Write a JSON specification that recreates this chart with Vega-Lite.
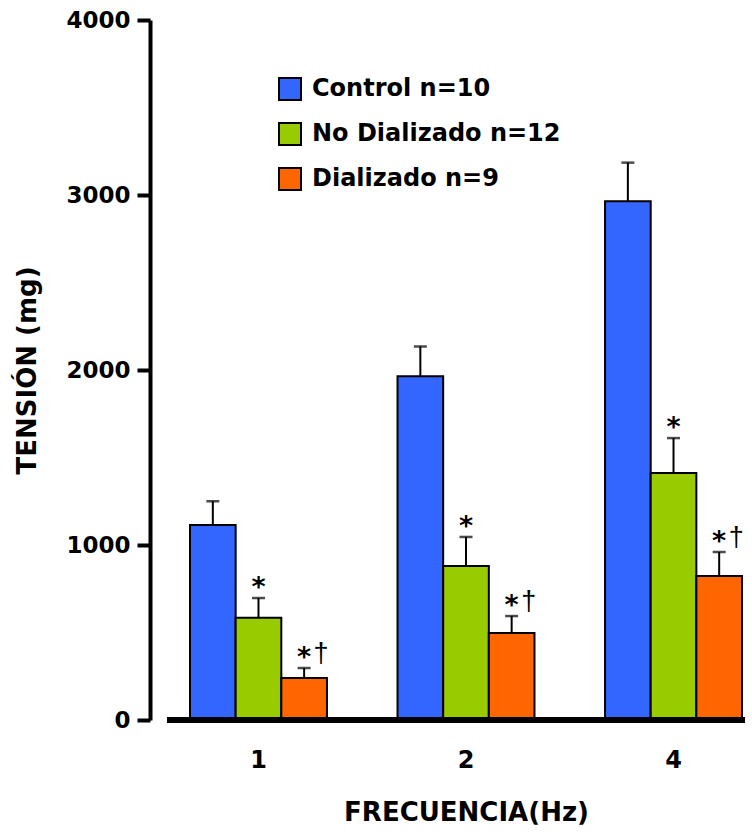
{
  "$schema": "https://vega.github.io/schema/vega-lite/v6.json",
  "autosize": {"type": "none"},
  "width": 578,
  "height": 700,
  "padding": {"left": 167, "top": 20, "right": 7, "bottom": 116},
  "background": "white",
  "config": {
    "view": {"stroke": null},
    "font": "DejaVu Sans"
  },
  "data": {
    "values": [
      {"freq": "1", "grupo": "Control  n=10", "valor": 1115, "err": 1250, "estrella": "", "daga": ""},
      {"freq": "1", "grupo": "No Dializado n=12", "valor": 585, "err": 697, "estrella": "*", "daga": ""},
      {"freq": "1", "grupo": "Dializado n=9", "valor": 240, "err": 297, "estrella": "*", "daga": "†"},
      {"freq": "2", "grupo": "Control  n=10", "valor": 1965, "err": 2135, "estrella": "", "daga": ""},
      {"freq": "2", "grupo": "No Dializado n=12", "valor": 880, "err": 1046, "estrella": "*", "daga": ""},
      {"freq": "2", "grupo": "Dializado n=9", "valor": 497, "err": 594, "estrella": "*", "daga": "†"},
      {"freq": "4", "grupo": "Control  n=10", "valor": 2965, "err": 3185, "estrella": "", "daga": ""},
      {"freq": "4", "grupo": "No Dializado n=12", "valor": 1411, "err": 1611, "estrella": "*", "daga": ""},
      {"freq": "4", "grupo": "Dializado n=9", "valor": 823, "err": 960, "estrella": "*", "daga": "†"}
    ]
  },
  "layer": [
    {
      "encoding": {
        "x": {
          "field": "freq",
          "type": "nominal",
          "sort": ["1", "2", "4"],
          "scale": {"range": [23, 575], "paddingInner": 0.34, "paddingOuter": 0},
          "axis": {
            "title": "FRECUENCIA(Hz)",
            "domain": false,
            "ticks": false,
            "labelAngle": 0,
            "labelFont": "DejaVu Sans",
            "labelFontWeight": "bold",
            "labelFontSize": 24,
            "labelColor": "black",
            "labelPadding": 28,
            "titleFont": "DejaVu Sans",
            "titleFontWeight": "bold",
            "titleFontSize": 26,
            "titleColor": "black",
            "titlePadding": 27
          }
        },
        "xOffset": {
          "field": "grupo",
          "type": "nominal",
          "sort": ["Control  n=10", "No Dializado n=12", "Dializado n=9"],
          "scale": {"paddingInner": 0, "paddingOuter": 0}
        }
      },
      "layer": [
        {
          "mark": {"type": "bar", "stroke": "black", "strokeWidth": 2},
          "encoding": {
            "y": {
              "field": "valor",
              "type": "quantitative",
              "scale": {"domain": [0, 4000], "nice": false},
              "axis": {
                "title": "TENSIÓN (mg)",
                "values": [0, 1000, 2000, 3000, 4000],
                "format": "d",
                "grid": false,
                "offset": 17,
                "domainColor": "black",
                "domainWidth": 4,
                "tickColor": "black",
                "tickWidth": 4,
                "tickSize": 13,
                "labelFont": "DejaVu Sans",
                "labelFontWeight": "bold",
                "labelFontSize": 23,
                "labelColor": "black",
                "labelPadding": 7,
                "titleFont": "DejaVu Sans",
                "titleFontWeight": "bold",
                "titleFontSize": 26,
                "titleColor": "black",
                "titlePadding": 25
              }
            },
            "color": {
              "field": "grupo",
              "type": "nominal",
              "sort": ["Control  n=10", "No Dializado n=12", "Dializado n=9"],
              "scale": {
                "domain": ["Control  n=10", "No Dializado n=12", "Dializado n=9"],
                "range": ["#3366FF", "#99CC00", "#FF6600"]
              },
              "legend": {
                "title": null,
                "orient": "none",
                "legendX": 111,
                "legendY": 57,
                "symbolType": "square",
                "symbolSize": 484,
                "symbolStrokeColor": "black",
                "symbolStrokeWidth": 2,
                "symbolOpacity": 1,
                "labelFont": "DejaVu Sans",
                "labelFontWeight": "bold",
                "labelFontSize": 24,
                "labelColor": "black",
                "labelOffset": 10,
                "labelLimit": 400,
                "rowPadding": 15
              }
            }
          }
        },
        {
          "mark": {"type": "rule", "color": "black", "strokeWidth": 2},
          "encoding": {
            "y": {"field": "valor", "type": "quantitative"},
            "y2": {"field": "err"}
          }
        },
        {
          "mark": {"type": "tick", "color": "black", "size": 13, "thickness": 2.5, "orient": "horizontal"},
          "encoding": {
            "y": {"field": "err", "type": "quantitative"}
          }
        },
        {
          "mark": {"type": "text", "font": "DejaVu Sans", "fontWeight": "bold", "fontSize": 27, "color": "black", "baseline": "alphabetic", "align": "center", "dy": -2},
          "encoding": {
            "y": {"field": "err", "type": "quantitative"},
            "text": {"field": "estrella"}
          }
        },
        {
          "mark": {"type": "text", "font": "Liberation Sans", "fontWeight": "normal", "fontSize": 27, "color": "black", "baseline": "alphabetic", "align": "center", "dx": 17, "dy": -6},
          "encoding": {
            "y": {"field": "err", "type": "quantitative"},
            "text": {"field": "daga"}
          }
        }
      ]
    },
    {
      "mark": {"type": "rule", "color": "black", "strokeWidth": 5},
      "encoding": {
        "y": {"datum": 0}
      }
    }
  ]
}
